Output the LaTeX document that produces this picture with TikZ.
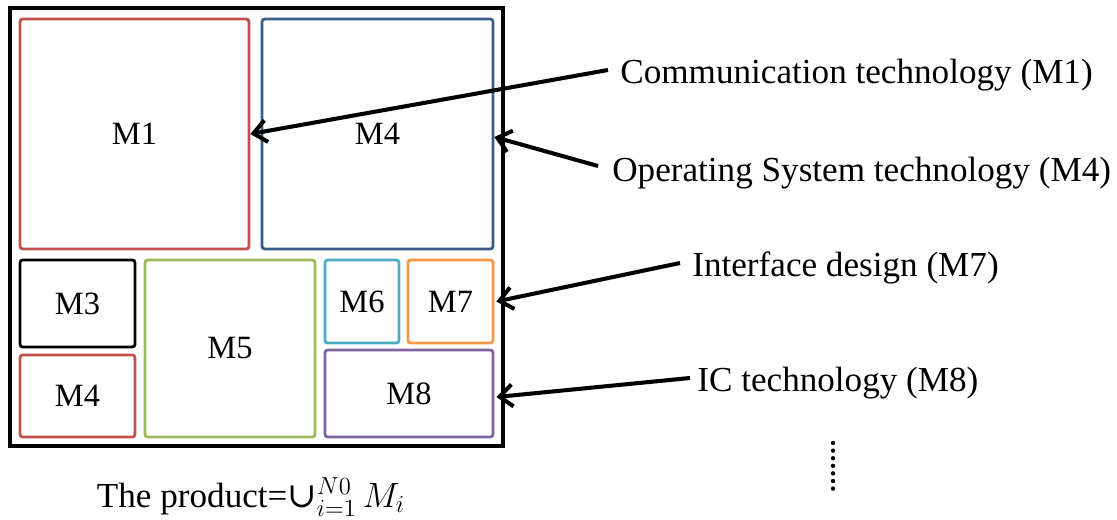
\documentclass[tikz,border=0pt]{standalone}
\usepackage{fix-cm}
\usepackage{fontspec}
\setmainfont{Liberation Serif}
\newfontfamily\unionfont{DejaVu Serif}
\usetikzlibrary{arrows.meta,positioning}
\definecolor{modred}{HTML}{C0504D}
\definecolor{modblue}{HTML}{385D8A}
\definecolor{modgreen}{HTML}{9BBB59}
\definecolor{modcyan}{HTML}{4BACC6}
\definecolor{modorange}{HTML}{F79646}
\definecolor{modpurple}{HTML}{8064A2}
\tikzset{
    % module box inside the product
    modbox/.style={
        draw, rounded corners=1.5pt, line width=1.6pt,
        inner sep=0pt, font=\fontsize{18.5}{22}\selectfont
    },
    % technology labels on the right
    techlabel/.style={anchor=west, inner sep=0pt, font=\fontsize{20}{24}\selectfont},
    techarrow/.style={-{Straight Barb[length=2.6mm,width=4.4mm]}, line width=2.3pt},
}
\begin{document}
\begin{tikzpicture}[x=0.02cm,y=-0.02cm]
  \useasboundingbox (0,0) rectangle (1117,520);
  % the product
  \draw[line width=2.8pt] (10,8) rectangle (503,446);
  \node[modbox,draw=modred,minimum width=4.58cm,minimum height=4.6cm] (m1) at (134.5,134) {M1};
  \node[modbox,draw=modblue,minimum width=4.62cm,minimum height=4.6cm] (m4a) at (377.5,134) {M4};
  \node[modbox,draw=black,minimum width=2.3cm,minimum height=1.74cm] (m3) at (77.5,303.5) {M3};
  \node[modbox,draw=modred,minimum width=2.3cm,minimum height=1.64cm] (m4b) at (77.5,396) {M4};
  \node[modbox,draw=modgreen,minimum width=3.4cm,minimum height=3.54cm] (m5) at (230,348.5) {M5};
  \node[modbox,draw=modcyan,minimum width=1.48cm,minimum height=1.66cm] (m6) at (362,301.5) {M6};
  \node[modbox,draw=modorange,minimum width=1.7cm,minimum height=1.66cm] (m7) at (450.5,301.5) {M7};
  \node[modbox,draw=modpurple,minimum width=3.36cm,minimum height=1.74cm] (m8) at (409,393.5) {M8};
  \node[font=\fontsize{20}{24}\selectfont] (prod) at (251,497)
    {The product=\mbox{\unionfont ∪}$^{N0}_{i=1}\,M_i$};

  % technologies
  \node[techlabel] (lab1) at (620,75) {Communication technology (M1)};
  \node[techlabel] (lab4) at (612,173) {Operating System technology (M4)};
  \node[techlabel] (lab7) at (692,268) {Interface design (M7)};
  \node[techlabel] (lab8) at (697,383) {IC technology (M8)};
  \draw[techarrow] (lab1.west) ++(-12,-5) -- (m1.east);
  \draw[techarrow] (lab4.west) ++(-14,-7) -- ([yshift=-0.06cm]m4a.east);
  \draw[techarrow] (lab7.west) ++(-12,-5) -- ([xshift=0.04cm]m7.east);
  \draw[techarrow] (lab8.west) ++(-7,-5) -- ([xshift=0.04cm,yshift=-0.07cm]m8.east);
  \foreach \k in {0,...,6}
    \fill (833,443+7.6*\k) circle[radius=2.2];
\end{tikzpicture}
\end{document}
